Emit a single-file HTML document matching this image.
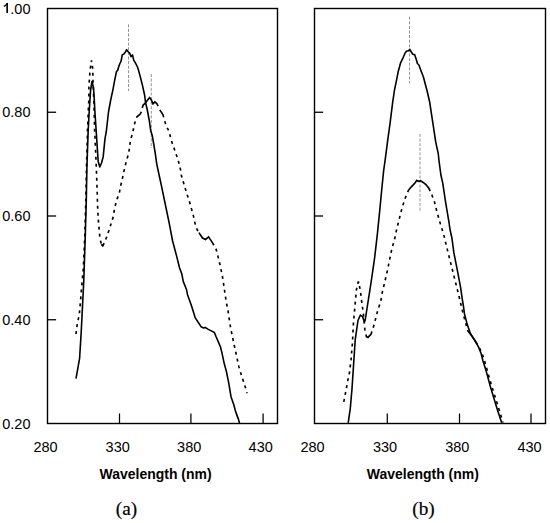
<!DOCTYPE html>
<html><head><meta charset="utf-8"><style>
html,body{margin:0;padding:0;background:#fff;width:550px;height:523px;overflow:hidden}
svg{display:block}
.t{font-family:"Liberation Sans",sans-serif;font-size:14.5px;fill:#000}
.b{font-family:"Liberation Sans",sans-serif;font-size:15px;font-weight:bold;fill:#000}
.s{font-family:"Liberation Serif",serif;font-size:19.2px;fill:#000;stroke:#000;stroke-width:0.2px}
</style></head><body>
<svg width="550" height="523" viewBox="0 0 550 523">
<rect width="550" height="523" fill="#fff"/>
<rect x="47.5" y="8.5" width="230.0" height="415.0" fill="none" stroke="#000" stroke-width="1.4"/>
<line x1="47.5" y1="112.25" x2="56.1" y2="112.25" stroke="#000" stroke-width="1.3"/>
<line x1="47.5" y1="216.00" x2="56.1" y2="216.00" stroke="#000" stroke-width="1.3"/>
<line x1="47.5" y1="319.75" x2="56.1" y2="319.75" stroke="#000" stroke-width="1.3"/>
<line x1="119.50" y1="423.5" x2="119.50" y2="413.5" stroke="#000" stroke-width="1.25"/>
<line x1="190.90" y1="423.5" x2="190.90" y2="413.5" stroke="#000" stroke-width="1.25"/>
<line x1="263.10" y1="423.5" x2="263.10" y2="413.5" stroke="#000" stroke-width="1.25"/>
<text x="45.50" y="451.8" text-anchor="middle" class="t">280</text>
<text x="117.70" y="451.8" text-anchor="middle" class="t">330</text>
<text x="189.20" y="451.8" text-anchor="middle" class="t">380</text>
<text x="260.70" y="451.8" text-anchor="middle" class="t">430</text>
<rect x="314.5" y="8.5" width="231.0" height="415.0" fill="none" stroke="#000" stroke-width="1.4"/>
<line x1="314.5" y1="112.25" x2="323.1" y2="112.25" stroke="#000" stroke-width="1.3"/>
<line x1="314.5" y1="216.00" x2="323.1" y2="216.00" stroke="#000" stroke-width="1.3"/>
<line x1="314.5" y1="319.75" x2="323.1" y2="319.75" stroke="#000" stroke-width="1.3"/>
<line x1="387.30" y1="423.5" x2="387.30" y2="413.5" stroke="#000" stroke-width="1.25"/>
<line x1="459.50" y1="423.5" x2="459.50" y2="413.5" stroke="#000" stroke-width="1.25"/>
<line x1="531.00" y1="423.5" x2="531.00" y2="413.5" stroke="#000" stroke-width="1.25"/>
<text x="312.60" y="451.8" text-anchor="middle" class="t">280</text>
<text x="385.10" y="451.8" text-anchor="middle" class="t">330</text>
<text x="457.30" y="451.8" text-anchor="middle" class="t">380</text>
<text x="529.50" y="451.8" text-anchor="middle" class="t">430</text>
<text x="30.5" y="13.70" text-anchor="end" class="t">.00</text>
<path d="M7.15,2.9 V12.9" stroke="#000" stroke-width="1.65" fill="none"/><path d="M7.3,3.4 Q5.8,5.6 3.8,6.4" stroke="#000" stroke-width="1.4" fill="none"/>
<text x="30.5" y="117.45" text-anchor="end" class="t">0.80</text>
<text x="30.5" y="221.20" text-anchor="end" class="t">0.60</text>
<text x="30.5" y="324.95" text-anchor="end" class="t">0.40</text>
<text x="30.5" y="428.70" text-anchor="end" class="t">0.20</text>
<line x1="128.5" y1="24.3" x2="128.5" y2="91" stroke="#888" stroke-width="0.9" stroke-dasharray="3 1.6"/>
<line x1="151.3" y1="74" x2="151.3" y2="148" stroke="#888" stroke-width="0.9" stroke-dasharray="3 1.6"/>
<line x1="409.5" y1="16.7" x2="409.5" y2="83.4" stroke="#888" stroke-width="0.9" stroke-dasharray="3 1.6"/>
<line x1="420" y1="134" x2="420" y2="210.5" stroke="#888" stroke-width="0.9" stroke-dasharray="3 1.6"/>
<path d="M76.0,378.6 L79.6,358.3 L81.2,332.4 L82.8,300.0 L83.8,280.0 L85.2,238.2 L86.3,200.0 L86.9,167.4 L88.2,130.0 L89.3,110.0 L90.6,90.0 L92.0,81.5 L93.5,87.8 L94.2,98.0 L94.8,110.0 L98.2,161.6 L99.8,167.0 L101.5,163.0 L103.2,156.7 L105.0,138.7 L106.3,131.5 L108.5,112.0 L110.7,100.0 L113.0,89.3 L114.7,80.1 L116.5,71.5 L117.6,70.4 L118.8,66.4 L119.9,63.5 L121.1,61.2 L122.2,54.9 L123.9,54.0 L125.1,52.6 L126.6,49.7 L127.9,51.5 L129.7,53.2 L131.1,56.6 L132.5,54.9 L133.7,60.1 L135.4,62.9 L137.7,67.5 L140.0,75.6 L142.3,84.7 L144.6,95.0 L145.5,102.2 L147.3,110.0 L149.2,120.0 L150.7,130.7 L152.2,135.3 L153.8,144.5 L155.3,153.6 L156.8,164.3 L159.1,175.0 L161.4,185.7 L164.5,200.5 L169.1,222.7 L172.6,241.0 L176.5,255.6 L179.5,267.8 L181.8,273.9 L183.3,281.6 L186.4,289.2 L187.6,295.0 L191.4,305.5 L195.3,317.9 L198.3,322.5 L201.4,327.1 L203.7,327.9 L205.2,327.4 L208.3,329.4 L211.3,330.9 L214.4,332.5 L215.9,336.3 L218.2,341.6 L220.5,347.0 L222.0,353.1 L224.3,363.8 L226.4,371.5 L228.7,382.9 L231.0,396.7 L233.8,404.7 L235.6,411.6 L238.4,419.1 L239.5,423.0" fill="none" stroke="#000" stroke-width="1.6" stroke-linejoin="round"/>
<path d="M76.00,334.00 L76.37,331.02 M76.86,327.05 L77.20,324.30 L77.25,324.08 M78.09,320.17 L78.73,317.24 M79.42,313.30 L79.69,310.32 M80.05,306.33 L80.31,303.34 M80.65,299.36 L80.89,296.37 M81.21,292.38 L81.45,289.39 M81.78,285.40 L82.06,282.42 M82.42,278.43 L82.70,275.45 M83.07,271.46 L83.20,270.00 L83.27,268.47 M83.46,264.48 L83.60,261.48 M83.79,257.48 L83.93,254.49 M84.11,250.49 L84.25,247.49 M84.44,243.50 L84.58,240.50 M84.74,236.51 L84.83,233.51 M84.95,229.51 L85.03,226.51 M85.15,222.51 L85.24,219.51 M85.35,215.51 L85.44,212.52 M85.55,208.52 L85.64,205.52 M85.76,201.52 L85.80,200.00 L85.83,198.52 M85.92,194.52 L85.98,191.52 M86.06,187.52 L86.13,184.52 M86.21,180.52 L86.28,177.53 M86.36,173.53 L86.43,170.53 M86.51,166.53 L86.59,163.53 M86.70,159.53 L86.78,156.53 M86.89,152.53 L86.97,149.53 M87.08,145.54 L87.16,142.54 M87.27,138.54 L87.35,135.54 M87.46,131.54 L87.50,130.00 L87.56,128.54 M87.73,124.55 L87.85,121.55 M88.02,117.55 L88.14,114.55 M88.31,110.56 L88.43,107.56 M88.62,103.57 L88.77,100.57 M88.90,96.57 L88.90,93.57 M88.90,89.57 L88.90,86.70 L88.91,86.57 M89.18,82.58 L89.39,79.59 M89.66,75.60 L89.86,72.61 M90.29,68.63 L90.72,65.66 M91.30,61.70 L91.50,60.30 L91.73,61.86 M92.33,65.82 L92.70,68.30 L92.71,68.79 M92.80,72.79 L92.87,75.79 M92.98,79.79 L93.06,82.79 M93.21,86.78 L93.34,89.78 M93.52,93.78 L93.66,96.77 M93.82,100.77 L93.90,103.77 M94.01,107.77 L94.09,110.77 M94.19,114.77 L94.20,115.00 L94.28,117.76 M94.39,121.76 L94.48,124.76 M94.59,128.76 L94.60,129.00 L94.72,131.76 M94.90,135.75 L95.04,138.75 M95.21,142.75 L95.35,145.74 M95.53,149.74 L95.66,152.74 M95.84,156.73 L95.97,159.73 M96.15,163.73 L96.29,166.72 M96.43,170.72 L96.54,173.72 M96.68,177.72 L96.79,180.71 M96.93,184.71 L97.04,187.71 M97.18,191.71 L97.29,194.70 M97.38,198.70 L97.44,201.70 M97.56,205.70 L97.71,208.70 M97.91,212.69 L98.07,215.69 M98.32,219.68 L98.58,222.67 M98.93,226.65 L99.19,229.64 M99.53,233.63 L99.79,236.62 M100.56,240.54 L101.14,243.48 M101.30,244.30 L102.80,245.90 L104.14,243.22 M105.72,239.55 L106.73,236.72 M108.06,232.95 L108.90,230.60 L109.05,230.12 M110.26,226.31 L111.17,223.45 M112.38,219.64 L112.80,218.30 L113.10,216.73 M113.84,212.80 L114.39,209.85 M115.15,205.92 L115.96,203.03 M117.04,199.18 L118.07,196.37 M119.38,192.59 L119.96,189.65 M120.74,185.72 L121.00,184.40 L121.39,182.80 M122.33,178.91 L122.40,178.60 L122.94,175.97 M123.76,172.06 L124.43,169.13 M125.32,165.23 L125.40,164.90 L126.11,162.34 M127.17,158.48 L127.30,158.00 L128.03,155.61 M128.92,151.72 L129.32,148.75 M129.85,144.78 L130.25,141.81 M131.13,137.93 L132.05,135.07 M132.97,131.18 L133.60,128.25 M134.44,124.34 L134.60,123.60 L135.32,121.47 M136.60,117.68 L136.90,116.80 L139.90,114.50 L141.00,112.60 L141.21,111.82 M142.27,107.97 L143.00,105.30 L145.30,103.00 L147.60,99.90 L149.60,97.60 L151.40,99.90 L152.48,102.70 M152.90,103.80 L154.90,101.90 L156.80,103.50 L158.07,106.22 M159.77,109.84 L159.80,109.90 L162.90,114.50 L163.71,117.39 M164.79,121.24 L165.60,124.13 M167.21,127.77 L168.57,130.45 M169.74,134.25 L170.47,137.16 M171.49,141.03 L172.49,143.86 M173.83,147.63 L174.83,150.45 M176.13,154.24 L177.10,157.08 M178.34,160.88 L179.07,163.79 M180.04,167.67 L180.50,169.50 L180.65,170.60 M181.20,174.56 L181.30,175.30 L181.95,177.46 M183.10,181.29 L183.96,184.16 M185.12,187.99 L185.90,190.60 L185.98,190.87 M187.20,194.68 L188.12,197.53 M189.33,201.34 L189.80,202.80 L190.19,204.22 M191.25,208.07 L192.05,210.97 M193.11,214.82 L193.60,216.60 L193.84,217.73 M194.68,221.64 L195.31,224.57 M196.50,228.36 L197.98,230.97 M198.90,232.60 L202.50,238.00 L205.50,239.50 L208.60,236.90 L212.40,242.60 L213.85,245.23 M215.78,248.73 L216.20,249.50 L216.74,251.55 M217.75,255.42 L217.80,255.60 L218.46,258.34 M219.39,262.23 L220.00,264.80 L220.08,265.15 M220.92,269.06 L221.55,271.99 M222.36,275.91 L222.80,278.88 M223.40,282.83 L223.84,285.80 M224.43,289.75 L224.88,292.72 M225.47,296.68 L225.92,299.64 M226.60,303.58 L227.18,306.53 M227.94,310.45 L228.20,311.80 L228.43,313.41 M228.98,317.37 L229.40,320.35 M230.04,324.29 L230.59,327.24 M231.32,331.17 L231.87,334.12 M232.70,338.04 L233.33,340.97 M234.17,344.88 L234.30,345.50 L234.80,347.81 M235.64,351.73 L236.27,354.66 M237.11,358.57 L237.74,361.50 M238.58,365.41 L238.90,366.90 L239.33,368.32 M240.49,372.14 L241.35,375.02 M242.60,378.81 L243.55,381.66 M244.80,385.46 L245.30,387.00 L245.66,388.33 M246.70,392.20 L247.00,393.30 M91.24,62.08 L91.50,60.30 L91.77,62.08 M101.57,244.59 L102.80,245.90 L103.60,244.29 M148.42,98.96 L149.60,97.60 L150.71,99.02 M152.25,102.12 L152.90,103.80 L154.20,102.56 M153.60,103.14 L154.90,101.90 L156.28,103.06 M203.89,238.70 L205.50,239.50 L206.88,238.34 M207.22,238.06 L208.60,236.90 L209.60,238.40" fill="none" stroke="#000" stroke-width="1.65"/>
<path d="M348.2,422.9 L350.3,408.3 L352.0,388.8 L353.6,364.4 L355.2,340.0 L356.4,331.3 L358.0,320.5 L360.3,315.2 L362.6,316.7 L364.4,322.1 L365.2,320.2 L367.0,308.5 L369.1,295.2 L371.2,281.5 L373.1,268.4 L374.6,258.0 L377.4,233.9 L379.5,212.9 L381.5,192.0 L383.6,171.0 L385.5,157.3 L387.5,141.8 L390.1,122.9 L392.7,102.2 L394.5,90.0 L396.8,78.8 L398.3,71.2 L400.6,62.8 L402.9,58.2 L405.2,52.8 L406.7,51.0 L408.2,51.0 L409.8,49.4 L411.3,52.0 L412.8,54.3 L414.6,54.6 L415.9,58.2 L417.4,63.5 L418.9,65.0 L421.2,71.2 L423.5,77.3 L425.5,85.0 L426.9,90.0 L429.7,102.2 L432.3,119.4 L435.7,141.8 L438.3,153.8 L438.9,160.0 L440.9,175.0 L442.7,182.9 L445.7,202.8 L448.8,221.2 L450.1,230.0 L451.9,238.0 L453.9,252.9 L457.7,272.1 L460.6,287.4 L462.4,300.0 L463.5,306.5 L464.4,313.4 L467.1,324.1 L470.4,333.5 L474.5,340.2 L478.5,346.9 L481.1,353.5 L483.0,361.0 L486.3,371.5 L489.9,384.9 L493.6,397.3 L497.4,409.8 L501.7,422.8" fill="none" stroke="#000" stroke-width="1.6" stroke-linejoin="round"/>
<path d="M343.80,401.80 L344.37,398.85 M345.12,394.93 L345.69,391.98 M346.43,388.05 L346.96,385.10 M347.66,381.16 L347.90,379.80 L348.25,378.22 M349.10,374.31 L349.50,372.50 L349.64,371.36 M350.13,367.39 L350.50,364.41 M350.98,360.44 L351.10,359.50 L351.25,357.46 M351.54,353.47 L351.76,350.48 M352.12,346.49 L352.40,343.50 M352.60,339.51 L352.75,336.51 M352.95,332.52 L353.10,329.52 M353.30,325.53 L353.40,323.60 L353.50,322.53 M353.85,318.55 L354.12,315.56 M354.47,311.58 L354.74,308.59 M355.09,304.60 L355.36,301.62 M355.71,297.63 L355.98,294.64 M356.33,290.66 L356.40,289.90 L356.89,287.72 M357.78,283.82 L358.30,281.50 L358.44,282.11 M359.37,286.00 L360.07,288.92 M360.66,292.87 L361.03,295.85 M361.51,299.82 L361.80,302.20 L361.88,302.79 M362.44,306.75 L362.86,309.73 M363.38,313.69 L363.66,316.68 M364.04,320.66 L364.32,323.65 M364.70,327.63 L364.90,329.70 L365.10,330.60 M365.94,334.51 L366.40,336.60 L367.90,337.40 L371.00,334.30 L371.93,331.45 M373.17,327.64 L374.00,325.10 L374.08,324.79 M375.07,320.91 L375.81,318.00 M376.80,314.13 L377.54,311.22 M378.74,307.41 L379.65,304.55 M380.86,300.73 L380.90,300.60 L381.38,297.78 M382.05,293.84 L382.50,291.20 L382.58,290.88 M383.52,287.00 L384.24,284.08 M385.16,280.19 L385.84,277.27 M386.75,273.37 L387.30,271.00 L387.41,270.45 M388.22,266.53 L388.82,263.59 M389.63,259.67 L390.23,256.74 M391.04,252.82 L391.64,249.88 M392.67,246.02 L393.48,243.13 M394.55,239.27 L395.18,236.34 M396.02,232.43 L396.65,229.50 M397.60,225.61 L398.32,222.70 M399.30,218.82 L400.04,215.91 M401.02,212.04 L401.76,209.13 M402.89,205.29 L403.82,202.44 M405.06,198.64 L405.20,198.20 L406.16,195.85 M407.67,192.14 L408.30,190.60 L411.30,186.80 L414.40,183.70 L416.70,180.60 L419.00,181.40 L420.50,180.60 L422.80,182.20 L425.90,184.50 L428.90,188.30 L430.13,191.04 M431.77,194.69 L432.00,195.20 L432.86,197.48 M434.27,201.22 L434.30,201.30 L435.01,204.13 M435.98,208.01 L436.60,210.50 L436.72,210.92 M437.80,214.77 L438.61,217.66 M439.69,221.51 L440.56,224.38 M441.72,228.21 L441.90,228.80 L442.58,231.08 M443.73,234.91 L444.20,236.50 L444.51,237.81 M445.44,241.70 L446.13,244.62 M447.06,248.51 L447.20,249.10 L447.78,251.42 M448.76,255.30 L449.49,258.21 M450.46,262.09 L451.20,265.00 M452.17,268.88 L452.89,271.79 M453.86,275.67 L454.58,278.58 M455.54,282.46 L455.80,283.50 L456.27,285.38 M457.23,289.26 L457.95,292.17 M458.92,296.05 L459.60,298.80 L459.64,298.96 M460.55,302.86 L461.24,305.78 M462.16,309.67 L462.40,310.70 L462.89,312.58 M463.89,316.45 L464.63,319.36 M465.69,323.22 L466.50,326.11 M467.57,329.96 L467.80,330.80 L471.50,335.50 L476.00,342.00 L477.49,344.60 M479.47,348.08 L480.00,349.00 L480.76,350.78 M482.34,354.46 L483.00,356.00 L483.39,357.26 M484.59,361.08 L485.48,363.94 M486.54,367.80 L487.33,370.70 M488.38,374.55 L488.50,375.00 L489.21,377.44 M490.33,381.28 L491.17,384.16 M492.31,387.99 L493.22,390.85 M494.43,394.66 L495.33,397.52 M496.52,401.34 L497.41,404.21 M498.58,408.03 L499.47,410.90 M500.63,414.73 L501.51,417.60 M502.67,421.42 L503.00,422.50 M357.90,283.26 L358.30,281.50 L358.72,283.25 M366.38,336.50 L367.90,337.40 L369.17,336.13 M415.63,182.05 L416.70,180.60 L418.40,181.19 M417.30,180.81 L419.00,181.40 L420.58,180.66 M418.91,181.37 L420.50,180.60 L421.98,181.63" fill="none" stroke="#000" stroke-width="1.65"/>
<text x="99.6" y="479" textLength="112" lengthAdjust="spacingAndGlyphs" class="b">Wavelength (nm)</text>
<text x="366.8" y="479" textLength="112" lengthAdjust="spacingAndGlyphs" class="b">Wavelength (nm)</text>
<text x="126.5" y="515.4" text-anchor="middle" class="s">(a)</text>
<text x="423.5" y="515.4" text-anchor="middle" class="s">(b)</text>
</svg>
</body></html>
